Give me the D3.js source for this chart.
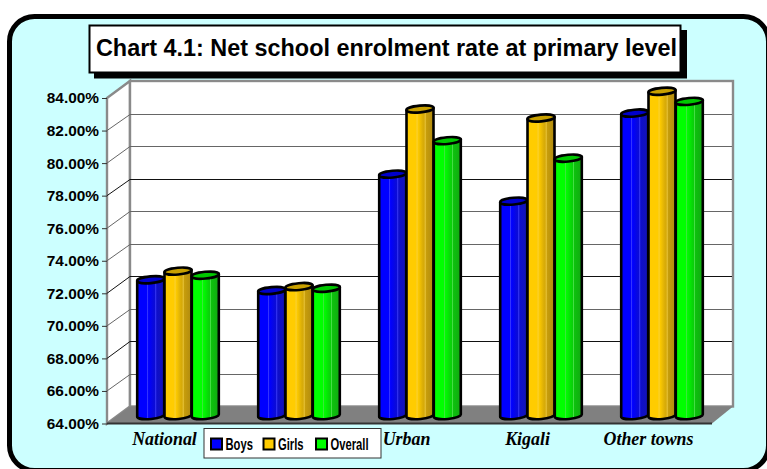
<!DOCTYPE html>
<html><head><meta charset="utf-8">
<script src="https://cdn.jsdelivr.net/npm/d3@7/dist/d3.min.js"></script>
<style>html,body{margin:0;padding:0;background:#fff;overflow:hidden}svg{display:block}</style>
</head><body><svg id="c" width="767" height="469"></svg>
<script>
const titleText = "Chart 4.1: Net school enrolment rate at primary level";
const categories = ["National","Rural","Urban","Kigali","Other towns"];
const coveredLabels = ["Rural"]; // sits behind the legend in the reference
const seriesNames = ["Boys","Girls","Overall"];
const boys = [72.36,71.7,78.85,77.19,82.6];
const girls = [72.89,71.94,82.85,82.3,83.94];
const overall = [72.64,71.84,80.91,79.83,83.32];
const yTicks = [64,66,68,70,72,74,76,78,80,82,84];
const blackGrid = [68,72,78];

const seriesValues = [boys,girls,overall];
const palette = [
  {base:"#0000ff",dark:"#1414b4",light:"#4646ff",lid:"#0000cc"},
  {base:"#ffcc00",dark:"#b08a10",light:"#f5d24a",lid:"#c8a000"},
  {base:"#00ff00",dark:"#12a812",light:"#4ae04a",lid:"#00c800"}
];
const svg = d3.select("#c");
const defs = svg.append("defs");
palette.forEach((p,i)=>{
  const g = defs.append("linearGradient").attr("id","bar"+i).attr("x1",0).attr("x2",1).attr("y1",0).attr("y2",0);
  [[0,p.base],[.36,p.base],[.39,p.light],[.42,p.base],[.6,d3.interpolateRgb(p.base,p.dark)(.45)],
   [.66,d3.interpolateRgb(p.base,p.dark)(.55)],[.69,p.light],[.72,d3.interpolateRgb(p.base,p.dark)(.7)],[1,p.dark]]
   .forEach(s=>g.append("stop").attr("offset",s[0]).attr("stop-color",s[1]));
});

// panel
svg.append("rect").attr("x",9.5).attr("y",16.5).attr("width",759).attr("height",454).attr("rx",25).attr("ry",25)
  .attr("fill","#ccffff").attr("stroke","#000").attr("stroke-width",5);

// plot geometry
const left=107, right=712, top0=98, bottom=423.5, dx=23, dy=-17;
const y = d3.scaleLinear().domain([64,84]).range([bottom,top0]);
const x = d3.scaleBand().domain(categories).range([left-3,right-3]);
const plot = svg.append("g");

// walls
plot.append("polygon").attr("points",[[left,top0],[left+dx,top0+dy],[left+dx,bottom+dy],[left,bottom]].join(" "))
  .attr("fill","#fff").attr("stroke","#8a8a8a").attr("stroke-width",2.4);
plot.append("rect").attr("x",left+dx).attr("y",top0+dy).attr("width",right-left-2).attr("height",bottom-top0)
  .attr("fill","#fff").attr("stroke","#8a8a8a").attr("stroke-width",2.4);
// floor
plot.append("polygon").attr("points",[[left,bottom],[right,bottom],[right+21,bottom+dy],[left+dx,bottom+dy]].join(" "))
  .attr("fill","#808080");
// grid
const gridColor = d => blackGrid.includes(d) ? "#111" : "#666";
plot.selectAll(".g").data(yTicks.slice(1,-1)).enter().append("polyline").attr("class","g")
  .attr("points",d=>[[left,y(d)],[left+dx,Math.round(y(d)+dy)+.5],[right+20,Math.round(y(d)+dy)+.5]].join(" "))
  .attr("fill","none").attr("stroke",gridColor).attr("stroke-width",1);
plot.append("line").attr("x1",left).attr("x2",right).attr("y1",bottom).attr("y2",bottom).attr("stroke","#333").attr("stroke-width",2);

// y axis
const axis = svg.append("g").attr("transform",`translate(${left},0)`)
  .call(d3.axisLeft(y).tickValues(yTicks).tickSize(5).tickPadding(3).tickFormat(d=>d3.format(".2f")(d)+"%"));
axis.select(".domain").remove();
axis.selectAll("line").attr("stroke","#333");
axis.selectAll("text").attr("font-family","'Liberation Sans',Arial,sans-serif").attr("font-weight","bold").attr("font-size",15.4).attr("fill","#000");

// bars
const barW=27, step=27.3, ry=3.4, tilt=1.3, rot=-5;
const yMid = v => y(v)-7.7;
const bars = svg.append("g");
categories.forEach((c,ci)=>{
  const cx = x(c)+x.bandwidth()/2+13.5;
  seriesValues.forEach((vals,si)=>{
    const xc = cx+(si-1)*step, x0=xc-barW/2, x1=xc+barW/2, rx=barW/2+.1;
    const yt = yMid(vals[ci]), yb = yMid(64);
    const g = bars.append("g").attr("stroke","#000").attr("stroke-width",2.6).attr("stroke-linejoin","round");
    g.append("path").attr("fill",`url(#bar${si})`)
      .attr("d",`M${x0},${yt+tilt}L${x0},${yb+tilt}A${rx},${ry} ${rot} 0 0 ${x1},${yb-tilt}L${x1},${yt-tilt}Z`);
    g.append("ellipse").attr("cx",xc).attr("cy",yt).attr("rx",rx).attr("ry",ry)
      .attr("transform",`rotate(${rot} ${xc} ${yt})`).attr("fill",palette[si].lid);
  });
});

// category labels
svg.append("g").selectAll("text").data(categories.filter(c=>!coveredLabels.includes(c))).enter().append("text")
  .attr("x",d=>x(d)+x.bandwidth()/2).attr("y",444.5).attr("text-anchor","middle")
  .attr("font-family","'Liberation Serif','Times New Roman',serif").attr("font-weight","bold").attr("font-style","italic")
  .attr("font-size",17.9).attr("fill","#000").text(d=>d);

// title
svg.append("rect").attr("x",94).attr("y",30).attr("width",593).attr("height",48.5).attr("fill","#000");
svg.append("rect").attr("x",89.5).attr("y",25.5).attr("width",591).attr("height",47).attr("fill","#fff").attr("stroke","#000").attr("stroke-width",2);
svg.append("text").attr("x",386.5).attr("y",56).attr("text-anchor","middle")
  .attr("font-family","'Liberation Sans',Arial,sans-serif").attr("font-weight","bold").attr("font-size",23.4).attr("fill","#000").text(titleText);

// legend
const legend = svg.append("g");
legend.append("rect").attr("x",204).attr("y",428.5).attr("width",177).attr("height",29.5).attr("fill","#fff").attr("stroke","#333").attr("stroke-width",1);
const legendX = d3.scalePoint().domain(seriesNames).range([211,316]);
seriesNames.forEach((n,i)=>{
  legend.append("rect").attr("x",legendX(n)).attr("y",438.5).attr("width",11).attr("height",11).attr("fill",palette[i].base).attr("stroke","#000").attr("stroke-width",2);
  legend.append("text").attr("transform",`translate(${legendX(n)+14.5},450) scale(.66,1)`)
    .attr("font-family","'Liberation Sans',Arial,sans-serif")
    .attr("font-weight","bold").attr("font-size",17).attr("fill","#000").text(n);
});
</script></body></html>
